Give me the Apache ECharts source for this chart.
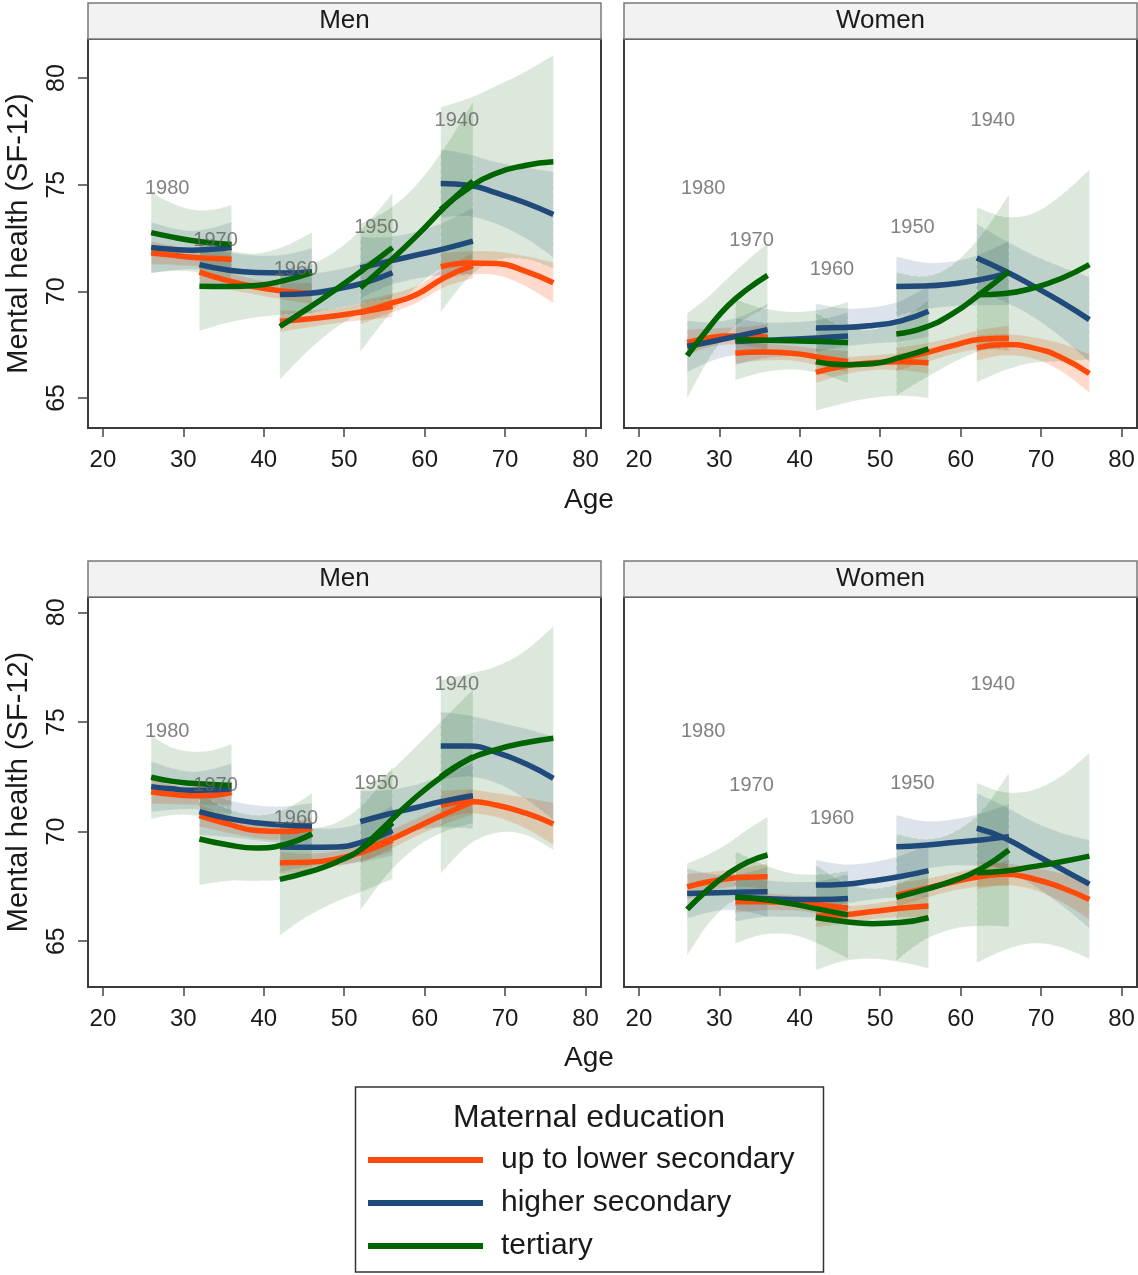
<!DOCTYPE html>
<html><head><meta charset="utf-8">
<script src="https://cdn.jsdelivr.net/npm/echarts@6/dist/echarts.min.js"></script>
<style>html,body{margin:0;padding:0;background:#fff}#c{width:1138px;height:1275px}</style>
</head><body><div id="c"></div>
<script>
// ---------- data ----------
const eduNames = ['up to lower secondary', 'higher secondary', 'tertiary'];
const cohortNames = ['1980', '1970', '1960', '1950', '1940'];
const cohortAges = [
  [26, 28.5, 31, 33.5, 36],
  [32, 35.5, 39, 42.5, 46],
  [42, 45.5, 49, 52.5, 56],
  [52, 55.5, 59, 62.5, 66],
  [62, 65.5, 69, 72.5, 76]
];
const xTicks = [20, 30, 40, 50, 60, 70, 80];
const yTicks = [65, 70, 75, 80];
const panelTitles = ['Men', 'Women', 'Men', 'Women'];
const labelAges = [28, 34, 44, 54, 64];
const labelTopY = [74.8, 72.4, 71.0, 73.0, 78.0];
const labelBottomY = [74.57, 72.12, 70.59, 72.2, 76.7];

// predicted means (top row, men)
const menTopLow = [[71.8,71.7,71.6,71.55,71.5],[70.9,70.5,70.2,70.0,69.9],[68.6,68.7,68.85,69.05,69.3],[69.0,69.4,69.85,70.65,71.2],[71.15,71.33,71.3,70.95,70.4]];
const menTopMid = [[72.05,71.97,71.93,71.97,72.05],[71.25,71.0,70.88,70.86,70.92],[69.85,69.9,70.1,70.4,70.87],[71.1,71.4,71.7,72.0,72.35],[75.06,74.97,74.6,74.15,73.6]];
const menTopHigh = [[72.75,72.55,72.38,72.27,72.2],[70.24,70.22,70.27,70.5,70.87],[68.35,69.2,70.1,71.05,72.05],[70.16,71.35,72.6,73.95,75.17],[73.83,74.85,75.55,75.9,76.07]];
// top row, women
const womenTopLow = [[67.6,67.8,67.9,67.9,67.85],[67.1,67.15,67.1,66.9,66.7],[66.2,66.5,66.65,66.7,66.65],[66.8,67.1,67.45,67.75,67.8],[67.35,67.5,67.35,66.9,66.15]];
const womenTopMid = [[67.42,67.6,67.8,68.0,68.2],[67.65,67.7,67.75,67.82,67.9],[68.28,68.3,68.4,68.6,69.06],[70.23,70.25,70.35,70.55,70.86],[71.56,70.95,70.25,69.5,68.67]];
const womenTopHigh = [[66.98,68.2,69.3,70.1,70.75],[67.73,67.7,67.68,67.65,67.6],[66.7,66.55,66.6,66.9,67.3],[68.0,68.3,68.95,69.9,70.93],[69.84,69.9,70.15,70.6,71.25]];
// bottom row, men
const menBotLow = [[71.82,71.7,71.63,71.65,71.78],[70.73,70.35,70.05,70.0,70.15],[68.58,68.6,68.75,69.1,69.6],[69.08,69.6,70.2,70.8,71.37],[71.2,71.37,71.2,70.85,70.35]];
const menBotMid = [[72.05,71.95,71.88,71.9,71.95],[70.91,70.6,70.4,70.3,70.25],[69.3,69.28,69.3,69.55,70.05],[70.45,70.8,71.1,71.4,71.63],[73.9,73.9,73.6,73.1,72.43]];
const menBotHigh = [[72.48,72.3,72.2,72.15,72.1],[69.66,69.4,69.25,69.4,69.9],[67.82,68.15,68.6,69.3,70.4],[69.16,70.4,71.6,72.6,73.42],[72.5,73.3,73.75,74.05,74.26]];
// bottom row, women
const womenBotLow = [[67.48,67.7,67.85,67.92,67.94],[66.8,66.8,66.75,66.65,66.5],[66.15,66.2,66.35,66.5,66.6],[67.1,67.4,67.7,67.95,68.1],[67.97,68.05,67.85,67.45,66.9]];
const womenBotMid = [[67.18,67.2,67.22,67.24,67.26],[67.0,66.95,66.9,66.9,66.95],[67.56,67.6,67.75,67.95,68.22],[69.31,69.38,69.5,69.62,69.77],[70.15,69.7,69.0,68.3,67.6]];
const womenBotHigh = [[66.45,67.33,68.05,68.6,68.93],[67.0,66.9,66.7,66.45,66.2],[66.08,65.9,65.8,65.85,66.07],[67.0,67.35,67.75,68.3,69.16],[68.12,68.2,68.4,68.62,68.88]];

// confidence-interval half widths
const menTopLowHw = [[0.55,0.45,0.4,0.45,0.55],[0.5,0.4,0.35,0.4,0.5],[0.5,0.4,0.35,0.4,0.5],[0.55,0.45,0.4,0.45,0.6],[0.65,0.55,0.55,0.7,0.95]];
const menTopMidHw = [[1.2,1.0,0.9,1.0,1.2],[1.1,0.85,0.8,0.85,1.1],[1.2,0.95,0.9,0.95,1.2],[1.45,1.15,1.1,1.25,1.55],[1.6,1.45,1.45,1.65,2.0]];
const menTopHighHw = [[1.9,1.6,1.45,1.55,1.85],[2.1,1.7,1.5,1.6,1.9],[2.5,2.0,1.8,2.0,2.55],[3.0,2.5,2.4,2.8,3.7],[4.8,4.2,4.1,4.4,5.0]];
const womenTopLowHw = [[0.6,0.45,0.4,0.45,0.6],[0.5,0.4,0.35,0.4,0.5],[0.5,0.4,0.35,0.4,0.5],[0.55,0.45,0.4,0.45,0.6],[0.6,0.5,0.5,0.65,0.9]];
const womenTopMidHw = [[1.2,0.95,0.85,0.95,1.2],[1.1,0.85,0.8,0.85,1.1],[1.15,0.9,0.85,0.95,1.2],[1.4,1.1,1.05,1.2,1.5],[1.6,1.45,1.45,1.65,2.0]];
const womenTopHighHw = [[2.0,1.5,1.3,1.35,1.5],[1.9,1.5,1.35,1.5,1.9],[2.3,1.8,1.6,1.8,2.3],[2.9,2.4,2.3,2.7,3.6],[4.1,3.6,3.5,3.9,4.45]];
const menBotLowHw = [[0.55,0.45,0.4,0.45,0.55],[0.5,0.4,0.35,0.4,0.5],[0.5,0.4,0.35,0.4,0.5],[0.55,0.45,0.4,0.45,0.6],[0.65,0.55,0.55,0.7,0.95]];
const menBotMidHw = [[1.15,0.95,0.85,0.95,1.15],[1.05,0.85,0.8,0.85,1.05],[1.15,0.9,0.85,0.9,1.15],[1.4,1.1,1.05,1.2,1.5],[1.55,1.4,1.4,1.6,1.9]];
const menBotHighHw = [[1.9,1.55,1.45,1.55,1.9],[2.1,1.65,1.5,1.6,1.85],[2.55,2.0,1.8,2.0,2.55],[2.75,2.3,2.3,2.6,3.05],[4.4,3.9,3.8,4.2,5.1]];
const womenBotLowHw = [[0.6,0.45,0.4,0.45,0.6],[0.5,0.4,0.35,0.4,0.5],[0.5,0.4,0.35,0.4,0.5],[0.55,0.45,0.4,0.45,0.6],[0.6,0.5,0.5,0.65,0.9]];
const womenBotMidHw = [[1.15,0.9,0.8,0.9,1.15],[1.1,0.85,0.8,0.85,1.1],[1.15,0.9,0.85,0.95,1.2],[1.45,1.1,1.05,1.2,1.5],[1.6,1.45,1.45,1.65,2.0]];
const womenBotHighHw = [[2.1,1.6,1.4,1.5,1.75],[2.1,1.6,1.4,1.6,2.0],[2.4,1.8,1.6,1.8,2.3],[2.9,2.3,2.2,2.6,3.5],[4.1,3.6,3.5,3.9,4.7]];

// ---------- styling / layout ----------
const FONT = 'Liberation Sans, Arial, Helvetica, sans-serif';
const lineColors = ['#ff4a0a', '#1f4a7a', '#006400'];
const bandColors = ['rgba(255,69,0,0.20)', 'rgba(30,70,120,0.15)', 'rgba(30,110,30,0.16)'];
const grids = [
  { left: 88, top: 39, width: 513, height: 389 },
  { left: 624, top: 39, width: 513, height: 389 },
  { left: 88, top: 597, width: 513, height: 390 },
  { left: 624, top: 597, width: 513, height: 390 }
];
const yRanges = [[63.59, 81.83], [63.59, 81.83], [62.91, 80.70], [62.91, 80.70]];
const panels = [
  { mean: [menTopLow, menTopMid, menTopHigh], hw: [menTopLowHw, menTopMidHw, menTopHighHw], labY: labelTopY },
  { mean: [womenTopLow, womenTopMid, womenTopHigh], hw: [womenTopLowHw, womenTopMidHw, womenTopHighHw], labY: labelTopY },
  { mean: [menBotLow, menBotMid, menBotHigh], hw: [menBotLowHw, menBotMidHw, menBotHighHw], labY: labelBottomY },
  { mean: [womenBotLow, womenBotMid, womenBotHigh], hw: [womenBotLowHw, womenBotMidHw, womenBotHighHw], labY: labelBottomY }
];

// smooth path through pixel points (Catmull-Rom style cubic segments)
function curveSegs(pts) {
  let d = '';
  for (let i = 0; i < pts.length - 1; i++) {
    const p0 = pts[Math.max(i - 1, 0)], p1 = pts[i], p2 = pts[i + 1], p3 = pts[Math.min(i + 2, pts.length - 1)];
    const c1 = [p1[0] + (p2[0] - p0[0]) / 6, p1[1] + (p2[1] - p0[1]) / 6];
    const c2 = [p2[0] - (p3[0] - p1[0]) / 6, p2[1] - (p3[1] - p1[1]) / 6];
    d += ' C' + c1[0] + ',' + c1[1] + ' ' + c2[0] + ',' + c2[1] + ' ' + p2[0] + ',' + p2[1];
  }
  return d;
}

const xAxes = [], yAxes = [], series = [], graphics = [];
grids.forEach((g, p) => {
  const isLeft = (p % 2 === 0);
  xAxes.push({
    type: 'value', gridIndex: p, min: 18.15, max: 81.92,
    axisLine: { show: false }, splitLine: { show: false },
    axisTick: { show: true, length: 9, customValues: xTicks, lineStyle: { color: '#444', width: 1.5 } },
    axisLabel: { show: true, customValues: xTicks, fontSize: 24, color: '#1a1a1a', margin: 20, fontFamily: FONT }
  });
  yAxes.push({
    type: 'value', gridIndex: p, min: yRanges[p][0], max: yRanges[p][1],
    axisLine: { show: false }, splitLine: { show: false },
    axisTick: { show: isLeft, length: 10, customValues: yTicks, lineStyle: { color: '#444', width: 1.5 } },
    axisLabel: { show: isLeft, customValues: yTicks, rotate: 90, fontSize: 25, color: '#1a1a1a', margin: 18, fontFamily: FONT },
    name: isLeft ? 'Mental health (SF-12)' : '', nameLocation: 'middle', nameRotate: 90, nameGap: 55,
    nameTextStyle: { fontSize: 29, color: '#1a1a1a', fontFamily: FONT }
  });
  graphics.push({
    type: 'rect', silent: true, z: 10,
    shape: { x: g.left, y: g.top - 36, width: g.width, height: 36 },
    style: { fill: '#f2f2f2', stroke: '#7a7a7a', lineWidth: 1.5 }
  });
  graphics.push({
    type: 'text', silent: true, z: 11,
    x: g.left + g.width / 2, y: g.top - 18,
    style: { text: panelTitles[p], fontSize: 26, fill: '#1a1a1a', fontFamily: FONT, align: 'center', verticalAlign: 'middle' }
  });

  const P = panels[p];
  // confidence bands: one custom series per education group, one polygon per cohort
  for (let e = 0; e < 3; e++) {
    const means = P.mean[e], hws = P.hw[e];
    series.push({
      type: 'custom', name: eduNames[e] + ' CI', xAxisIndex: p, yAxisIndex: p, silent: true, z: 1,
      data: cohortAges.map((ages, c) => [ages[0], means[c][0], c]),
      encode: { x: 0, y: 1 },
      renderItem: function (params, api) {
        const c = api.value(2);
        const ages = cohortAges[c], m = means[c], h = hws[c];
        const up = ages.map((a, i) => api.coord([a, m[i] + h[i]]));
        const lo = ages.map((a, i) => api.coord([a, m[i] - h[i]])).reverse();
        const d = 'M' + up[0][0] + ',' + up[0][1] + curveSegs(up) +
          ' L' + lo[0][0] + ',' + lo[0][1] + curveSegs(lo) + ' Z';
        return {
          type: 'path', shape: { pathData: d },
          style: { fill: bandColors[e], stroke: 'rgba(255,255,255,0.35)', lineWidth: 1, lineDash: [4, 3] }
        };
      }
    });
  }
  // predicted lines
  for (let e = 0; e < 3; e++) {
    for (let c = 0; c < 5; c++) {
      const ages = cohortAges[c], m = P.mean[e][c];
      series.push({
        type: 'line', name: eduNames[e], xAxisIndex: p, yAxisIndex: p,
        data: ages.map((a, i) => [a, m[i]]),
        smooth: true, symbol: 'none', silent: true, z: 3,
        lineStyle: { color: lineColors[e], width: 5.5, cap: 'butt' },
        itemStyle: { color: lineColors[e] },
        emphasis: { disabled: true }
      });
    }
  }
  // cohort labels
  series.push({
    type: 'scatter', xAxisIndex: p, yAxisIndex: p, symbolSize: 0, silent: true, z: 4,
    data: cohortNames.map((n, i) => [labelAges[i], P.labY[i], n]),
    label: { show: true, position: 'inside', formatter: q => q.value[2], fontSize: 20, color: '#626262', fontFamily: FONT }
  });
});

[500, 1058].forEach(y => graphics.push({
  type: 'text', silent: true, x: 589, y: y,
  style: { text: 'Age', fontSize: 28, fill: '#1a1a1a', fontFamily: FONT, align: 'center', verticalAlign: 'middle' }
}));
graphics.push({
  type: 'rect', silent: true, z: -1,
  shape: { x: 355.5, y: 1087, width: 468, height: 185 },
  style: { fill: '#fff', stroke: '#333', lineWidth: 1.5 }
});
graphics.push({
  type: 'text', silent: true, x: 589, y: 1118,
  style: { text: 'Maternal education', fontSize: 32, fill: '#1a1a1a', fontFamily: FONT, align: 'center', verticalAlign: 'middle' }
});

const chart = echarts.init(document.getElementById('c'), null, { renderer: 'canvas' });
chart.setOption({
  animation: false,
  backgroundColor: '#ffffff',
  textStyle: { fontFamily: FONT },
  grid: grids.map(g => Object.assign({ show: true, borderColor: '#3a3a3a', borderWidth: 2, backgroundColor: '#fff', containLabel: false }, g)),
  xAxis: xAxes,
  yAxis: yAxes,
  legend: {
    data: eduNames.map((n, i) => ({ name: n, itemStyle: { color: lineColors[i] } })),
    orient: 'vertical', left: 368, top: 1145, padding: 0,
    itemWidth: 115, itemHeight: 6, icon: 'rect', itemGap: 13,
    selectedMode: false,
    textStyle: { fontSize: 30, color: '#1a1a1a', padding: [0, 0, 0, 13], fontFamily: FONT }
  },
  graphic: graphics,
  series: series
});
</script>
</body></html>
